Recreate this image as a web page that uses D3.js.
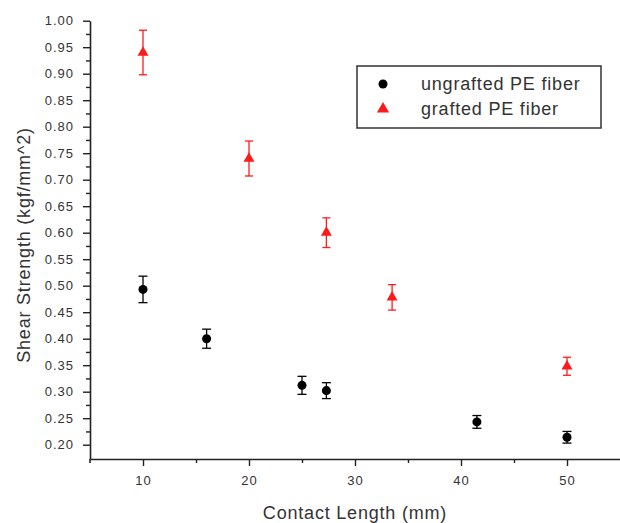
<!DOCTYPE html>
<html>
<head>
<meta charset="utf-8">
<script src="https://cdn.jsdelivr.net/npm/d3@7"></script>
<style>
  html, body { margin: 0; padding: 0; background: #fff; }
  svg { display: block; }
  text { font-family: "Liberation Sans", Arial, sans-serif; }
</style>
</head>
<body>
<svg id="chart" width="620" height="523"></svg>
<script>
// Shear strength versus contact length, PE fibre pull-out
const ungraftedLength   = [10, 16, 25, 27.3, 41.5, 50];
const ungraftedStrength = [0.493, 0.400, 0.312, 0.302, 0.243, 0.214];
const ungraftedError    = [0.025, 0.018, 0.017, 0.015, 0.012, 0.011];

const graftedLength   = [10, 20, 27.3, 33.5, 50];
const graftedStrength = [0.940, 0.740, 0.600, 0.478, 0.348];
const graftedError    = [0.042, 0.033, 0.028, 0.024, 0.017];

const xMajorTicks = [10, 20, 30, 40, 50];
const xMinorTicks = [15, 25, 35, 45];
const yMajorTicks = [0.20, 0.25, 0.30, 0.35, 0.40, 0.45, 0.50, 0.55, 0.60,
                     0.65, 0.70, 0.75, 0.80, 0.85, 0.90, 0.95, 1.00];
const yMinorTicks = [0.225, 0.275, 0.325, 0.375, 0.425, 0.475, 0.525, 0.575,
                     0.625, 0.675, 0.725, 0.775, 0.825, 0.875, 0.925, 0.975];

const seriesNames = ["ungrafted PE fiber", "grafted PE fiber"];

const svg = d3.select("#chart");
const axisColor = "#222";
const textColor = "#333";
const red = "#ff1a1a";

const x = d3.scaleLinear().domain([5, 55]).range([90, 620]);
const y = d3.scaleLinear().domain([0.173, 1.0]).range([459, 20.7]);

// ---- axes ----
const xAxis = svg.append("g").attr("transform", `translate(0,${y(0.173)})`)
  .call(d3.axisBottom(x).tickValues(xMajorTicks).tickSize(7).tickSizeOuter(0)
        .tickPadding(10).tickFormat(d3.format("d")));
const xMinor = svg.append("g").attr("transform", `translate(0,${y(0.173)})`)
  .call(d3.axisBottom(x).tickValues(xMinorTicks).tickSize(4).tickSizeOuter(0).tickFormat(""));
xMinor.select(".domain").remove();

const yAxis = svg.append("g").attr("transform", `translate(${x(5)},0)`)
  .call(d3.axisLeft(y).tickValues(yMajorTicks).tickSize(7).tickSizeOuter(0)
        .tickPadding(10).tickFormat(d3.format(".2f")));
const yMinor = svg.append("g").attr("transform", `translate(${x(5)},0)`)
  .call(d3.axisLeft(y).tickValues(yMinorTicks).tickSize(4).tickSizeOuter(0).tickFormat(""));
yMinor.select(".domain").remove();

svg.selectAll(".domain").attr("stroke", axisColor).attr("stroke-width", 1.6);
svg.selectAll(".tick line").attr("stroke", axisColor).attr("stroke-width", 1.4);
svg.selectAll(".tick text")
  .attr("fill", textColor)
  .style("font-size", "13px")
  .style("letter-spacing", "1px")
  .style("font-family", "'Liberation Sans', Arial, sans-serif");
yAxis.selectAll(".tick text").attr("dx", "1px");

// small extension of the y axis below the origin
svg.append("line")
  .attr("x1", x(5)).attr("x2", x(5))
  .attr("y1", y(0.173)).attr("y2", y(0.173) + 4)
  .attr("stroke", axisColor).attr("stroke-width", 1.6);

// ---- axis titles ----
svg.append("text")
  .attr("x", 355).attr("y", 519)
  .attr("text-anchor", "middle")
  .attr("fill", textColor)
  .style("font-size", "18px")
  .style("letter-spacing", "0.8px")
  .text("Contact Length (mm)");

svg.append("text")
  .attr("transform", "translate(30,245) rotate(-90)")
  .attr("text-anchor", "middle")
  .attr("fill", textColor)
  .style("font-size", "18px")
  .style("letter-spacing", "0.8px")
  .text("Shear Strength (kgf/mm^2)");

// ---- error bars and markers ----
function drawSeries(xs, ys, errs, color, symbolType, symbolSize, capW) {
  const data = xs.map((v, i) => ({ x: v, y: ys[i], e: errs[i] }));
  const g = svg.append("g");
  const bars = g.selectAll("g.err").data(data).join("g").attr("class", "err")
    .attr("stroke", color).attr("stroke-width", 1.3);
  bars.append("line")
    .attr("x1", d => x(d.x)).attr("x2", d => x(d.x))
    .attr("y1", d => y(d.y + d.e)).attr("y2", d => y(d.y - d.e));
  bars.append("line")
    .attr("x1", d => x(d.x) - capW / 2).attr("x2", d => x(d.x) + capW / 2)
    .attr("y1", d => y(d.y + d.e)).attr("y2", d => y(d.y + d.e));
  bars.append("line")
    .attr("x1", d => x(d.x) - capW / 2).attr("x2", d => x(d.x) + capW / 2)
    .attr("y1", d => y(d.y - d.e)).attr("y2", d => y(d.y - d.e));
  g.selectAll("path.mark").data(data).join("path").attr("class", "mark")
    .attr("d", d3.symbol().type(symbolType).size(symbolSize))
    .attr("transform", d => `translate(${x(d.x)},${y(d.y)})`)
    .attr("fill", color);
}

drawSeries(ungraftedLength, ungraftedStrength, ungraftedError, "#000", d3.symbolCircle, 64, 9);
drawSeries(graftedLength, graftedStrength, graftedError, red, d3.symbolTriangle, 52, 8);

// ---- legend ----
const legend = svg.append("g");
legend.append("rect")
  .attr("x", 357).attr("y", 66).attr("width", 244).attr("height", 62)
  .attr("fill", "#fff").attr("stroke", "#333").attr("stroke-width", 1.5);
const legendRows = [
  { name: seriesNames[0], color: "#000", type: d3.symbolCircle, size: 64, cy: 84 },
  { name: seriesNames[1], color: red, type: d3.symbolTriangle, size: 64, cy: 109 }
];
legendRows.forEach(r => {
  legend.append("path")
    .attr("d", d3.symbol().type(r.type).size(r.size))
    .attr("transform", `translate(383,${r.cy})`)
    .attr("fill", r.color);
  legend.append("text")
    .attr("x", 421).attr("y", r.cy + 6)
    .attr("fill", textColor)
    .style("font-size", "18px")
    .style("letter-spacing", "0.8px")
    .text(r.name);
});
</script>
</body>
</html>
